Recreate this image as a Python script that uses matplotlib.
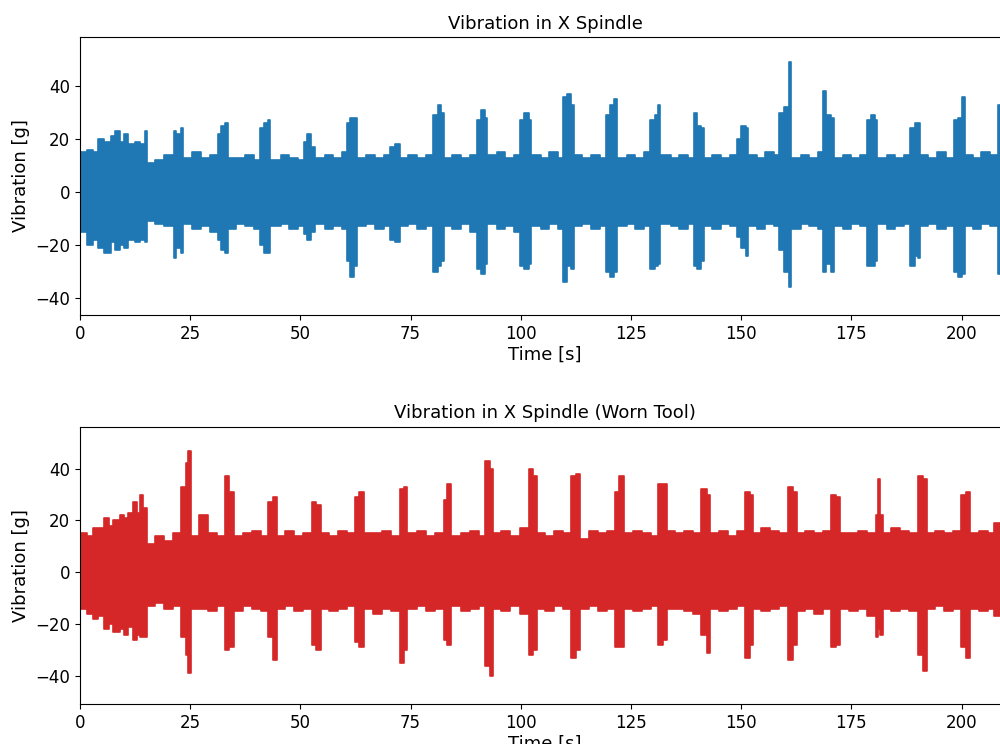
"""
Vibration in X spindle: new tool vs worn tool
"""

import numpy as np
import matplotlib
matplotlib.use("Agg")
import matplotlib.pyplot as plt

# -------- DATA (envelope of the signal) --------
# time breakpoints [s], upper and lower envelope [g], held until next point

# new tool
x_time = [0, 1.5, 3, 4, 5.5, 7, 8, 9, 10, 11, 12.5, 13.5, 14.7,
          15.2, 17, 19, 21.3, 21.8, 23.0,
          23.4, 25.5, 27.5, 29.5, 31.2, 32.0, 32.8,
          33.5, 35.5, 37.5, 39.5, 40.8, 41.8, 42.6,
          43.1, 45.5, 47.5, 49.5, 50.8, 51.5, 52.3,
          53.3, 55.5, 57.5, 59.5, 60.5, 61.3, 62.1,
          62.9, 65, 67, 69, 70.3, 71.5,
          72.6, 74.5, 76.5, 78.5, 80.1, 81.3, 82.0,
          82.5, 84.5, 86.5, 88.5, 90.0, 91.0, 91.8,
          92.4, 94.5, 96.5, 98.5, 99.8, 100.8, 101.8,
          102.4, 104.5, 106.5, 108.5, 109.6, 110.6, 111.4,
          112.0, 114, 116, 118, 119.4, 120.3, 121.2,
          121.8, 124, 126, 128, 129.3, 130.4, 131.2,
          131.7, 134, 136, 138, 139.2, 140.0, 140.8,
          141.5, 143.5, 145.5, 147.5, 149.1, 150.0, 151.0,
          151.6, 153.5, 155.5, 157.5, 158.7, 159.8, 160.9,
          161.4, 163.5, 165.5, 167.5, 168.5, 169.2, 170.4,
          171.0, 173, 175, 177, 178.5, 179.4, 180.3,
          180.9, 183, 185, 187, 188.4, 189.4, 190.2,
          190.6, 192.5, 194.5, 196.5, 198.2, 199.3, 200.0,
          200.7, 202.5, 204.5, 206.5, 208.2, 209.5, 211]
x_upper = [15, 16, 15, 20, 19, 21, 23, 19, 22, 18, 19, 18, 23,
           11, 12, 14, 23, 22, 24,
           13, 15, 13, 14, 22, 25, 26,
           13, 13, 14, 12, 24, 26, 27,
           12, 14, 13, 12, 19, 22, 17,
           13, 14, 13, 15, 26, 28, 28,
           13, 14, 13, 14, 17, 18,
           13, 14, 13, 14, 29, 33, 30,
           13, 14, 13, 14, 27, 31, 28,
           14, 15, 13, 14, 27, 30, 27,
           14, 13, 15, 13, 36, 37, 33,
           14, 13, 14, 13, 29, 33, 35,
           13, 14, 13, 15, 27, 29, 33,
           14, 13, 14, 13, 30, 25, 24,
           13, 14, 13, 14, 20, 25, 24,
           14, 13, 15, 14, 30, 32, 49,
           13, 14, 13, 15, 38, 29, 28,
           13, 14, 13, 14, 27, 29, 27,
           13, 14, 13, 14, 24, 26, 26,
           14, 13, 15, 13, 27, 28, 36,
           14, 13, 15, 14, 33, 30, 30]
x_lower = [-15, -20, -18, -21, -23, -19, -22, -20, -21, -18, -19, -18, -19,
           -11, -12, -13, -25, -21, -23,
           -12, -14, -13, -15, -18, -22, -23,
           -14, -12, -13, -14, -20, -23, -23,
           -13, -12, -14, -13, -16, -18, -15,
           -12, -14, -13, -14, -26, -32, -28,
           -13, -12, -14, -13, -18, -19,
           -13, -12, -14, -13, -30, -28, -26,
           -13, -14, -12, -15, -29, -31, -27,
           -12, -14, -13, -15, -28, -29, -27,
           -13, -14, -12, -14, -34, -28, -29,
           -13, -12, -14, -13, -30, -32, -30,
           -13, -12, -14, -13, -29, -28, -27,
           -12, -13, -14, -12, -28, -29, -26,
           -13, -14, -12, -13, -17, -21, -24,
           -13, -14, -12, -13, -22, -30, -36,
           -14, -12, -13, -14, -30, -27, -30,
           -13, -14, -12, -13, -28, -28, -26,
           -12, -14, -13, -12, -28, -24, -25,
           -13, -12, -14, -13, -30, -32, -31,
           -13, -14, -12, -13, -31, -28, -28]

# worn tool
w_time = [0, 1.5, 3, 4, 5.5, 6.5, 7.5, 9, 10, 11, 12, 13, 13.6, 14.3,
          15.1, 17, 19, 21, 23.0, 24.0, 24.5,
          25.1, 27, 29, 31, 32.8, 33.8,
          35.0, 37, 39, 41, 42.7, 43.7,
          44.6, 46.5, 48.5, 50.5, 52.6, 53.6,
          54.6, 56.5, 58.5, 60.5, 62.4, 63.4,
          64.5, 66.5, 68.5, 70.5, 72.5, 73.4,
          74.3, 76.5, 78.5, 80.5, 82.5, 83.3,
          84.2, 86.5, 88.5, 90.5, 92.0, 93.0,
          93.8, 95.5, 97.5, 99.8, 101.8, 102.8,
          103.7, 105.5, 107.5, 109.5, 111.5, 112.6,
          113.5, 115.5, 117.5, 119.5, 121.3, 122.4,
          123.5, 125.5, 127.5, 129.5, 131.1, 132.3,
          133.2, 135, 137, 139, 141.0, 142.2,
          143.0, 145, 147, 149, 150.8, 151.9,
          152.8, 154.5, 156.5, 158.5, 160.6, 161.7,
          162.7, 164.5, 166.5, 168.5, 170.5, 171.6,
          172.5, 174.5, 176.5, 178.5, 180.5, 181.0, 181.5,
          182.2, 184, 186, 188, 190.1, 191.2,
          192.2, 194, 196, 198, 199.9, 201.0,
          202.0, 204, 206, 207.3, 209, 211]
w_upper = [15, 14, 17, 17, 21, 18, 20, 22, 21, 23, 27, 23, 30, 25,
           11, 14, 12, 15, 33, 42, 47,
           14, 22, 15, 14, 37, 31,
           14, 15, 16, 14, 27, 29,
           14, 16, 14, 15, 27, 26,
           15, 14, 16, 15, 29, 31,
           15, 15, 16, 14, 32, 33,
           15, 16, 14, 15, 28, 34,
           14, 15, 16, 14, 43, 40,
           15, 16, 14, 17, 40, 37,
           15, 14, 16, 15, 37, 38,
           13, 16, 15, 16, 31, 37,
           15, 16, 15, 14, 34, 34,
           16, 15, 16, 15, 32, 30,
           15, 16, 14, 16, 31, 30,
           15, 17, 16, 15, 33, 31,
           15, 16, 15, 16, 30, 29,
           15, 15, 16, 15, 22, 36, 22,
           15, 17, 16, 15, 37, 36,
           15, 16, 15, 16, 30, 31,
           15, 16, 15, 19, 17, 17]
w_lower = [-14, -16, -18, -17, -22, -20, -23, -22, -24, -21, -26, -24, -25, -25,
           -13, -12, -14, -13, -25, -32, -39,
           -14, -14, -15, -13, -30, -29,
           -15, -13, -14, -15, -25, -34,
           -14, -13, -15, -14, -28, -30,
           -14, -15, -14, -13, -27, -29,
           -14, -16, -14, -15, -35, -30,
           -14, -13, -15, -14, -26, -28,
           -13, -15, -14, -13, -36, -40,
           -14, -15, -13, -16, -32, -30,
           -14, -15, -13, -14, -33, -30,
           -14, -13, -15, -14, -29, -29,
           -14, -15, -14, -13, -28, -26,
           -14, -14, -15, -16, -24, -31,
           -14, -15, -14, -13, -33, -28,
           -14, -15, -14, -13, -34, -28,
           -15, -14, -16, -14, -29, -28,
           -14, -15, -14, -17, -25, -22, -24,
           -14, -15, -14, -15, -32, -38,
           -14, -13, -15, -14, -29, -33,
           -14, -15, -14, -17, -15, -15]
# ------------------------------------------------------------------


def draw_signal(ax, t, up, lo, color, title):
    ax.fill_between(t, lo, up, step="post", color=color,
                    edgecolor=color, linewidth=1.2)
    ax.set_title(title, fontsize=13)
    ax.set_xlabel("Time [s]", fontsize=13, labelpad=2)
    ax.set_ylabel("Vibration [g]", fontsize=13)
    ax.set_xticks([0, 25, 50, 75, 100, 125, 150, 175, 200])
    ax.set_yticks([-40, -20, 0, 20, 40])
    ax.tick_params(labelsize=12)
    ax.set_xlim(0, 211)


def main():
    fig = plt.figure(figsize=(10, 7.44), dpi=100)

    ax1 = fig.add_axes([0.08, 0.5766, 0.93, 0.3737])
    draw_signal(ax1, x_time, x_upper, x_lower, "#1f77b4",
                "Vibration in X Spindle")
    ax1.set_ylim(-46.4, 58.5)

    ax2 = fig.add_axes([0.08, 0.0538, 0.93, 0.3727])
    draw_signal(ax2, w_time, w_upper, w_lower, "#d62728",
                "Vibration in X Spindle (Worn Tool)")
    ax2.set_ylim(-50.8, 56.2)

    fig.savefig("out.png", dpi=100)


if __name__ == "__main__":
    main()
